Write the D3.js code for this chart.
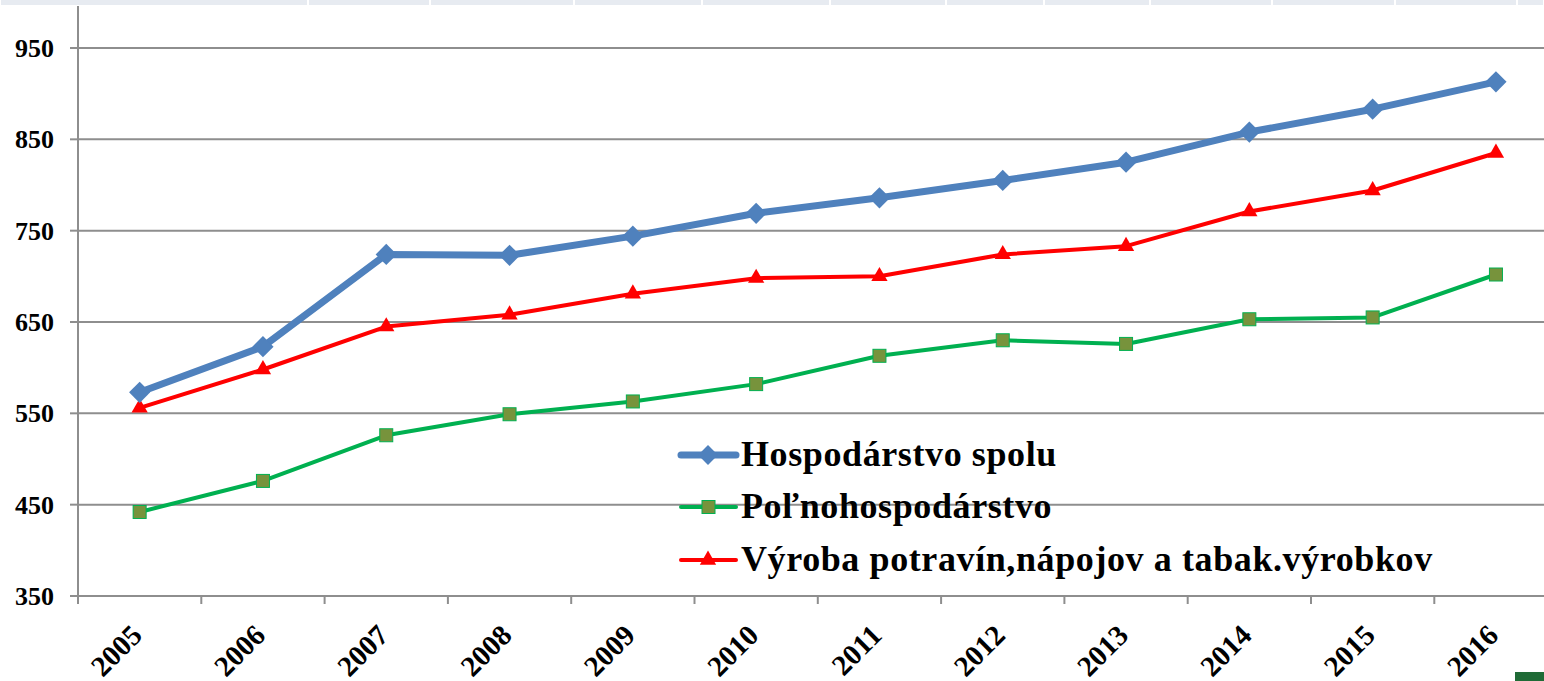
<!DOCTYPE html>
<html>
<head>
<meta charset="utf-8">
<script src="https://cdn.jsdelivr.net/npm/d3@7"></script>
<style>
  html, body { margin: 0; padding: 0; background: #fff; overflow: hidden; }
  svg { display: block; }
  text { font-family: "Liberation Serif", "Times New Roman", serif; font-weight: bold; fill: #000; }
</style>
</head>
<body>
<svg id="chart" width="1544" height="681"></svg>
<script>
// roky
const years = ["2005", "2006", "2007", "2008", "2009", "2010", "2011", "2012", "2013", "2014", "2015", "2016"];
// hodnoty odčítané z grafu
const hospodarstvo = [573, 623, 724, 723, 744, 769, 786, 805, 825, 858, 883, 913];
const polnohospodarstvo = [442, 476, 526, 549, 563, 582, 613, 630, 626, 653, 655, 702];
const potraviny = [556, 598, 645, 658, 681, 698, 700, 724, 733, 771, 794, 835];
const yTicks = [350, 450, 550, 650, 750, 850, 950];
const seriesNames = ["Hospodárstvo spolu", "Poľnohospodárstvo", "Výroba potravín,nápojov a tabak.výrobkov"];

const svg = d3.select("#chart");

// horný pás (zvyšok tabuľky nad grafom)
const strip = [0, 308, 430, 574, 702, 830, 946, 1044, 1150, 1272, 1395, 1517, 1544];
svg.selectAll(".strip").data(d3.pairs(strip)).join("rect")
    .attr("x", d => d[0] + 1).attr("y", 0)
    .attr("width", d => d[1] - d[0] - 2).attr("height", 5)
    .attr("fill", "#e7ebf1");

const plotLeft = 78, plotBottom = 596, plotTop = 48;
const step = 123.3;

const x = d3.scaleBand().domain(years).range([plotLeft, plotLeft + step * years.length]).paddingInner(0).paddingOuter(0);
const y = d3.scaleLinear().domain([350, 950]).range([plotBottom, plotTop]);
const cx = d => x(d) + x.bandwidth() / 2;

const grid = svg.append("g");
// vodorovná mriežka
grid.selectAll("line.h").data(yTicks).join("line")
    .attr("x1", plotLeft).attr("x2", 1544)
    .attr("y1", d => y(d)).attr("y2", d => y(d))
    .attr("stroke", "#8e8e8e").attr("stroke-width", 2);

// os y
grid.append("line").attr("x1", plotLeft).attr("x2", plotLeft)
    .attr("y1", 6).attr("y2", plotBottom + 8)
    .attr("stroke", "#8e8e8e").attr("stroke-width", 2);
grid.selectAll("line.yt").data(yTicks).join("line")
    .attr("x1", plotLeft - 8).attr("x2", plotLeft)
    .attr("y1", d => y(d)).attr("y2", d => y(d))
    .attr("stroke", "#8e8e8e").attr("stroke-width", 2);

// značky na osi x na hraniciach kategórií
grid.selectAll("line.xt").data(years).join("line")
    .attr("x1", d => x(d)).attr("x2", d => x(d))
    .attr("y1", plotBottom).attr("y2", plotBottom + 8)
    .attr("stroke", "#8e8e8e").attr("stroke-width", 2);

// popisy osi y
svg.append("g").selectAll("text").data(yTicks).join("text")
    .attr("x", 54).attr("y", d => y(d) + 9)
    .attr("text-anchor", "end")
    .style("font-size", "26px")
    .text(d => d);

// popisy osi x
svg.append("g").selectAll("text").data(years).join("text")
    .attr("transform", d => `translate(${cx(d) + 4}, ${plotBottom + 41}) rotate(-45)`)
    .attr("text-anchor", "end")
    .style("font-size", "29px")
    .text(d => d);

const line = d3.line().x((d, i) => cx(years[i])).y(d => y(d));

// Poľnohospodárstvo
svg.append("path").datum(polnohospodarstvo)
    .attr("d", line).attr("fill", "none")
    .attr("stroke", "#00b050").attr("stroke-width", 4).attr("stroke-linejoin", "round");
svg.append("g").selectAll("rect").data(polnohospodarstvo).join("rect")
    .attr("x", (d, i) => cx(years[i]) - 6.5).attr("y", d => y(d) - 6.5)
    .attr("width", 13).attr("height", 13)
    .attr("fill", "#77933c").attr("stroke", "#00b050").attr("stroke-width", 1);

// Výroba potravín
svg.append("path").datum(potraviny)
    .attr("d", line).attr("fill", "none")
    .attr("stroke", "#ff0000").attr("stroke-width", 4).attr("stroke-linejoin", "round");
svg.append("g").selectAll("path").data(potraviny).join("path")
    .attr("d", d3.symbol(d3.symbolTriangle, 115))
    .attr("transform", (d, i) => `translate(${cx(years[i])}, ${y(d)})`)
    .attr("fill", "#ff0000");

// Hospodárstvo spolu
svg.append("path").datum(hospodarstvo)
    .attr("d", line).attr("fill", "none")
    .attr("stroke", "#4f81bd").attr("stroke-width", 7).attr("stroke-linejoin", "round");
svg.append("g").selectAll("rect").data(hospodarstvo).join("rect")
    .attr("x", -7.5).attr("y", -7.5).attr("width", 15).attr("height", 15)
    .attr("transform", (d, i) => `translate(${cx(years[i])}, ${y(d)}) rotate(45)`)
    .attr("fill", "#4f81bd");

// legenda
const legend = svg.append("g");
const rows = [455, 507, 560];
const colors = ["#4f81bd", "#00b050", "#ff0000"];
const widths = [7, 4, 4];
rows.forEach((ry, i) => {
    legend.append("line").attr("x1", 681).attr("x2", 736)
        .attr("y1", ry).attr("y2", ry)
        .attr("stroke", colors[i]).attr("stroke-width", widths[i]).attr("stroke-linecap", "round");
    if (i === 0) {
        legend.append("rect").attr("x", -7).attr("y", -7).attr("width", 14).attr("height", 14)
            .attr("transform", `translate(708, ${ry}) rotate(45)`).attr("fill", colors[0]);
    } else if (i === 1) {
        legend.append("rect").attr("x", 702).attr("y", ry - 6.5).attr("width", 13).attr("height", 13)
            .attr("fill", "#77933c").attr("stroke", "#00b050");
    } else {
        legend.append("path").attr("d", d3.symbol(d3.symbolTriangle, 115))
            .attr("transform", `translate(708, ${ry})`).attr("fill", colors[2]);
    }
    legend.append("text").attr("x", 741).attr("y", ry + 11)
        .style("font-size", "36px").style("letter-spacing", "0.6px")
        .text(seriesNames[i]);
});

// zelený roh vpravo dole
svg.append("rect").attr("x", 1515).attr("y", 672).attr("width", 29).attr("height", 9).attr("fill", "#1f6b36");
</script>
</body>
</html>
